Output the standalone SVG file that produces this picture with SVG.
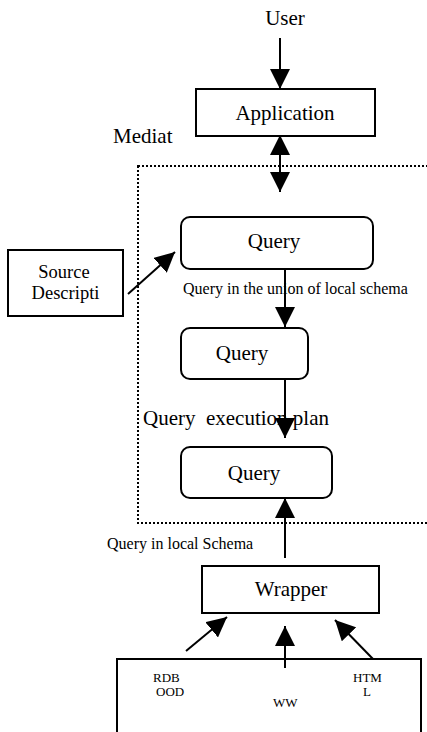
<svg xmlns="http://www.w3.org/2000/svg" width="427" height="732" viewBox="0 0 427 732">
  <defs>
    <style>
      .box { fill: #fff; stroke: #000; stroke-width: 2; }
      .frame { fill: none; stroke: #000; stroke-width: 2; stroke-dasharray: 2 2; }
      .edge { fill: none; stroke: #000; stroke-width: 2; }
      text { font-family: "Liberation Serif", "Times New Roman", serif; fill: #000; }
      .big { font-size: 21px; }
      .mid { font-size: 18.5px; }
      .small { font-size: 16px; }
      .tiny { font-size: 13px; }
      .c { text-anchor: middle; }
    </style>
    <marker id="ah" viewBox="0 0 20 20" refX="20" refY="10" markerWidth="20" markerHeight="20" markerUnits="userSpaceOnUse" orient="auto-start-reverse">
      <path d="M0,0 L20,10 L0,20 z" fill="#000"/>
    </marker>
  </defs>
  <rect width="427" height="732" fill="#fff"/>

  <!-- mediator boundary -->
  <rect class="frame" x="138" y="166" width="300" height="357"/>

  <text class="big" x="113" y="143">Mediat</text>
  <text class="big c" x="285" y="25">User</text>

  <g id="application">
    <rect class="box" x="196" y="89" width="179" height="47"/>
    <text class="big c" x="285" y="120">Application</text>
  </g>

  <g id="source">
    <rect class="box" x="8" y="250" width="115" height="66"/>
    <text class="mid c" x="64" y="278">Source</text>
    <text class="mid c" x="65.5" y="299">Descripti</text>
  </g>

  <g id="query1">
    <rect class="box" x="181" y="217" width="192" height="52" rx="9"/>
    <text class="big c" x="274" y="248">Query</text>
  </g>

  <g id="query2">
    <rect class="box" x="181" y="328" width="127" height="51" rx="9"/>
    <text class="big c" x="242" y="360">Query</text>
  </g>

  <g id="query3">
    <rect class="box" x="181" y="447" width="151" height="51" rx="9"/>
    <text class="big c" x="254" y="480">Query</text>
  </g>

  <g id="wrapper">
    <rect class="box" x="202" y="566" width="177" height="47"/>
    <text class="big c" x="291" y="596">Wrapper</text>
  </g>

  <g id="sources">
    <rect class="box" x="117" y="659" width="304" height="90"/>
    <text class="tiny" x="153" y="682">RDB</text>
    <text class="tiny" x="156" y="696">OOD</text>
    <text class="tiny" x="273" y="707">WW</text>
    <text class="tiny" x="353" y="682">HTM</text>
    <text class="tiny" x="363" y="696">L</text>
  </g>

  <g id="connectors">
    <line class="edge" x1="280" y1="38" x2="280" y2="89" marker-end="url(#ah)"/>
    <line class="edge" x1="280" y1="135" x2="280" y2="192" marker-start="url(#ah)" marker-end="url(#ah)"/>
    <line class="edge" x1="128" y1="294" x2="175" y2="252" marker-end="url(#ah)"/>
    <line class="edge" x1="285" y1="269" x2="285" y2="327" marker-end="url(#ah)"/>
    <line class="edge" x1="285" y1="379" x2="285" y2="438" marker-end="url(#ah)"/>
    <line class="edge" x1="285" y1="558" x2="285" y2="498" marker-end="url(#ah)"/>
    <line class="edge" x1="186" y1="651" x2="227" y2="617" marker-end="url(#ah)"/>
    <line class="edge" x1="285" y1="668" x2="285" y2="626" marker-end="url(#ah)"/>
    <line class="edge" x1="373" y1="659" x2="335" y2="620" marker-end="url(#ah)"/>
  </g>

  <!-- edge labels -->
  <text class="small" x="183" y="294">Query in the union of local schema</text>
  <text class="big" x="143" y="425" xml:space="preserve">Query  execution plan</text>
  <text class="small" x="107" y="549">Query in local Schema</text>
</svg>
